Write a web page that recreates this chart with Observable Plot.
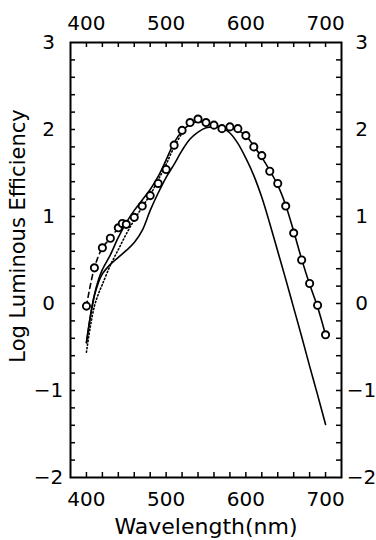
<!DOCTYPE html>
<html>
<head>
<meta charset="utf-8">
<script src="https://cdn.jsdelivr.net/npm/d3@7"></script>
<script src="https://cdn.jsdelivr.net/npm/@observablehq/plot@0.6"></script>
<style>
  html, body { margin: 0; padding: 0; background: #fff; }
  #chart { width: 376px; height: 540px; }
</style>
</head>
<body>
<div id="chart"></div>
<script>
// Measured points (open circles)
const circleWl  = [400, 410, 420, 430, 440, 445, 450, 460, 470, 480, 490, 500, 510, 520, 530, 540, 550, 560, 570, 580, 590, 600, 610, 620, 630, 640, 650, 660, 670, 680, 690, 700];
const circleVal = [-0.03, 0.41, 0.64, 0.75, 0.87, 0.92, 0.91, 0.99, 1.12, 1.24, 1.38, 1.54, 1.82, 1.99, 2.08, 2.12, 2.08, 2.05, 2.01, 2.03, 2.01, 1.93, 1.80, 1.70, 1.52, 1.38, 1.12, 0.81, 0.50, 0.23, -0.02, -0.36];

// Dashed connection of the short-wavelength circles
const dashedWl = [400, 410, 420, 430, 440, 445, 450];

// Upper solid curve (fit through data)
const upperWl  = [400, 405, 410, 415, 420, 430, 440, 450, 460, 470, 480, 490, 500, 510, 520, 530, 540, 550, 560, 570, 580, 590, 600, 610, 620, 630, 640, 650, 660, 670, 680, 690, 700];
const upperVal = [-0.45, -0.14, 0.10, 0.27, 0.39, 0.56, 0.76, 0.93, 1.07, 1.19, 1.31, 1.46, 1.65, 1.85, 1.98, 2.06, 2.09, 2.08, 2.05, 2.03, 2.02, 1.99, 1.93, 1.81, 1.68, 1.53, 1.36, 1.13, 0.83, 0.51, 0.22, -0.04, -0.36];

// Lower solid curve
const lowerWl  = [400, 405, 410, 415, 420, 430, 440, 450, 460, 470, 480, 490, 500, 510, 520, 530, 540, 550, 560, 570, 580, 590, 600, 610, 620, 630, 640, 650, 660, 670, 680, 690, 700];
const lowerVal = [-0.45, -0.15, 0.09, 0.24, 0.34, 0.45, 0.53, 0.61, 0.70, 0.84, 1.07, 1.27, 1.45, 1.60, 1.76, 1.89, 1.97, 2.02, 2.03, 2.02, 1.96, 1.84, 1.67, 1.47, 1.22, 0.92, 0.60, 0.28, -0.05, -0.38, -0.72, -1.05, -1.39];

// Dotted curve (short wavelengths)
const dottedWl  = [400, 405, 410, 415, 420, 430, 440, 450, 460, 470, 480, 490, 500, 510, 520];
const dottedVal = [-0.56, -0.26, -0.03, 0.11, 0.22, 0.44, 0.62, 0.80, 0.96, 1.11, 1.25, 1.42, 1.60, 1.80, 1.96];

// Axis ticks and labels
const xMinorTicks = d3.range(400, 701, 20);
const xLabelTicks = [400, 500, 600, 700];
const yMinorTicks = d3.range(-18, 29, 2).map(v => v / 10);
const yLabelTicks = [-2, -1, 0, 1, 2, 3];
const xLabel = "Wavelength(nm)";
const yLabel = "Log Luminous Efficiency";

const pts = (xs, ys) => xs.map((x, i) => ({x, y: ys[i]}));
const circles = pts(circleWl, circleVal);
const dashed = circles.filter(d => dashedWl.includes(d.x));
const upper = pts(upperWl, upperVal);
const lower = pts(lowerWl, lowerVal);
const dotted = pts(dottedWl, dottedVal);

const W = 376, H = 540, mL = 70, mR = 35, mT = 42, mB = 63;
const fw = W - mL - mR, fh = H - mT - mB;
const tk = 5;
const fmt = d3.format("d");

const chart = Plot.plot({
  width: W, height: H,
  marginLeft: mL, marginRight: mR, marginTop: mT, marginBottom: mB,
  style: {fontFamily: "DejaVu Sans, sans-serif", fontSize: "20px", color: "#000", background: "#fff", overflow: "visible"},
  x: {domain: [380, 720]},
  y: {domain: [-2, 3]},
  marks: [
    // inward ticks
    Plot.tickX(xMinorTicks, {x: d => d, insetTop: fh - tk, stroke: "#000", strokeWidth: 1.5}),
    Plot.tickX(xMinorTicks, {x: d => d, insetBottom: fh - tk, stroke: "#000", strokeWidth: 1.5}),
    Plot.tickY(yMinorTicks, {y: d => d, insetRight: fw - tk, stroke: "#000", strokeWidth: 1.5}),
    Plot.tickY(yMinorTicks, {y: d => d, insetLeft: fw - tk, stroke: "#000", strokeWidth: 1.5}),
    Plot.frame({stroke: "#000", strokeWidth: 2}),
    // axis labels
    Plot.axisX(xLabelTicks, {anchor: "bottom", tickSize: 0, tickPadding: 14, label: null, fontSize: 20, tickFormat: fmt}),
    Plot.axisX(xLabelTicks, {anchor: "top", tickSize: 0, tickPadding: 13, label: null, fontSize: 20, tickFormat: fmt}),
    Plot.axisY(yLabelTicks, {anchor: "left", tickSize: 0, tickPadding: 22, textAnchor: "middle", label: null, fontSize: 20, tickFormat: fmt}),
    Plot.axisY(yLabelTicks, {anchor: "right", tickSize: 0, tickPadding: 20, textAnchor: "middle", label: null, fontSize: 20, tickFormat: fmt}),
    // curves
    Plot.line(lower, {x: "x", y: "y", curve: "catmull-rom", stroke: "#000", strokeWidth: 1.6}),
    Plot.line(upper, {x: "x", y: "y", curve: "catmull-rom", stroke: "#000", strokeWidth: 1.6}),
    Plot.line(dotted, {x: "x", y: "y", curve: "catmull-rom", stroke: "#000", strokeWidth: 1.6, strokeDasharray: "1.2,2.4"}),
    Plot.line(dashed, {x: "x", y: "y", curve: "catmull-rom", stroke: "#000", strokeWidth: 1.6, strokeDasharray: "5,4"}),
    Plot.dot(circles, {x: "x", y: "y", r: 3.6, fill: "#fff", stroke: "#000", strokeWidth: 1.9}),
    // titles
    Plot.text([xLabel], {frameAnchor: "bottom", dy: 49, text: d => d, fontSize: 22, lineAnchor: "middle", textAnchor: "middle"}),
    Plot.text([yLabel], {frameAnchor: "left", dx: -52, dy: -24, rotate: -90, text: d => d, fontSize: 21, lineAnchor: "middle", textAnchor: "middle"})
  ]
});
document.getElementById("chart").appendChild(chart);
</script>
</body>
</html>
